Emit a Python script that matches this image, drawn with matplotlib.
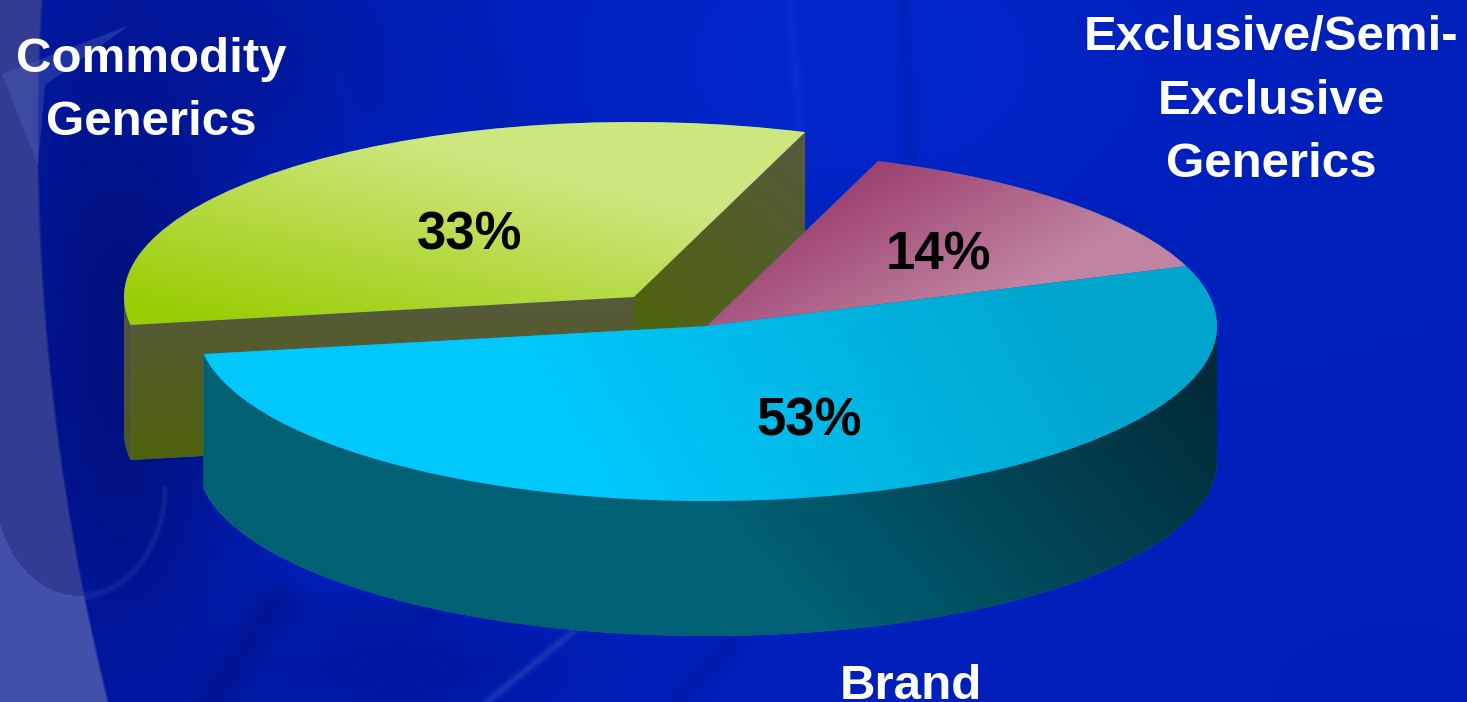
import numpy as np
import matplotlib
matplotlib.use('Agg')
import matplotlib.pyplot as plt
from matplotlib.patches import Polygon, Wedge
from matplotlib.transforms import Affine2D

plt.rcParams['font.family'] = ['Liberation Sans', 'DejaVu Sans']

# Market share by product type
categories = ['Brand', 'Exclusive/Semi-\nExclusive\nGenerics', 'Commodity\nGenerics']
shares = [53, 14, 33]

W, H = 1467, 702
RX, RY = 510, 175
DEPTH = 135
CENTER = (707, 326)
COMMODITY_CENTER = (634, 297)
START_ANGLE = 20.0


def arc_points(center, a0, a1, n=200, dy=0):
    t = np.radians(np.linspace(a0, a1, n))
    return np.column_stack([center[0] + RX * np.cos(t), center[1] - RY * np.sin(t) + dy])


def gradient(ax, clip, p0, p1, c0, c1):
    # Linear colour ramp from pixel p0 to pixel p1, clipped to a patch
    xx, yy = np.meshgrid(np.arange(W) + 0.5, np.arange(H) + 0.5)
    d = np.array(p1, float) - np.array(p0, float)
    t = np.clip(((xx - p0[0]) * d[0] + (yy - p0[1]) * d[1]) / (d @ d), 0, 1)[..., None]
    rgb = (np.array(c0) * (1 - t) + np.array(c1) * t) / 255
    ax.add_patch(clip)
    im = ax.imshow(rgb, extent=(0, W, H, 0), interpolation='bilinear', zorder=clip.get_zorder())
    im.set_clip_path(clip)


def background():
    xx, yy = np.meshgrid(np.arange(W) + 0.5, np.arange(H) + 0.5)
    img = np.ones((H, W, 3)) * np.array([0, 32, 188], float)

    def mix(w, color):
        return img * (1 - w[..., None]) + np.array(color, float) * w[..., None]

    def blob(cx, cy, sx, sy, color, amount):
        return mix(amount * np.exp(-((xx - cx) / sx) ** 2 - ((yy - cy) / sy) ** 2), color)

    def streak(x0, y0, x1, y1, width, color, amount):
        # soft line between two points
        dx, dy = x1 - x0, y1 - y0
        s = np.clip(((xx - x0) * dx + (yy - y0) * dy) / (dx * dx + dy * dy), 0, 1)
        dist = np.hypot(xx - x0 - s * dx, yy - y0 - s * dy)
        return mix(amount * np.exp(-(dist / width) ** 2), color)

    img = blob(860, 60, 260, 170, (0, 40, 205), 0.8)
    img = blob(1400, 690, 300, 160, (0, 30, 185), 0.4)
    img = blob(120, 330, 130, 420, (0, 16, 126), 1.0)
    img = blob(230, 60, 160, 120, (0, 22, 150), 0.8)
    img = blob(400, 670, 170, 60, (0, 20, 150), 0.8)
    img = blob(150, 680, 130, 70, (0, 24, 160), 0.7)

    # soft streaks across the backdrop
    img = streak(464, 0, 504, 125, 16, (0, 25, 165), 0.35)
    img = streak(310, 0, 361, 140, 10, (0, 35, 185), 0.3)
    img = streak(790, 0, 800, 130, 6, (12, 52, 215), 0.55)
    img = streak(905, 0, 910, 165, 7, (0, 28, 170), 0.5)
    img = streak(275, 600, 211, 702, 18, (0, 16, 125), 0.4)
    img = streak(275, 612, 430, 618, 18, (0, 16, 130), 0.25)
    img = streak(573, 632, 487, 702, 4, (45, 70, 190), 0.55)
    img = streak(734, 640, 677, 702, 12, (0, 20, 145), 0.35)

    # rim of the dark rounded shape near the left edge
    rho = np.hypot((xx - 80) / 85, (yy - 486) / 110)
    rim = np.clip(1 - np.abs(rho - 1) / 0.05, 0, 1) * (yy > 486) * 0.3
    img = mix(rim, (60, 80, 175))

    # pale band down the left edge, darker above the rim
    edge = 38 + 2.17e-4 * (yy - 134) ** 2
    band = np.clip((edge - xx) / 2.5 + 0.5, 0, 1)
    inside = ((yy < 486) | (rho < 1))[..., None]
    left = np.where(inside, np.array([50, 60, 146], float), np.array([66, 80, 170], float))
    img = img * (1 - band[..., None]) + left * band[..., None]
    return img / 255


fig = plt.figure(figsize=(W / 100, H / 100), dpi=100)
ax = fig.add_axes([0, 0, 1, 1])
ax.axis('off')
ax.imshow(background(), extent=(0, W, H, 0), zorder=0, aspect='auto')
ax.fill([2, 130, 45, 38], [74, 25, 85, 165], color=(0.30, 0.38, 0.72), alpha=0.4, lw=0, zorder=1)

# slice angles run clockwise from the brand slice's upper edge
sweep = np.array(shares) / sum(shares) * 360
brand_a0 = START_ANGLE - sweep[0]
pink_a1 = START_ANGLE + sweep[1]
comm_a1 = pink_a1 + sweep[2]

# commodity slice: inner faces, short outer wall, then top
tip = arc_points(COMMODITY_CENTER, pink_a1, pink_a1, 1)[0]
end = arc_points(COMMODITY_CENTER, comm_a1, comm_a1, 1)[0]
cx, cy = COMMODITY_CENTER
gradient(ax, Polygon([(cx, cy), tip, (tip[0], tip[1] + DEPTH), (cx, cy + DEPTH)], lw=0, zorder=2),
         (805, 140), (640, 330), (86, 90, 60), (78, 100, 14))
gradient(ax, Polygon([(cx, cy), end, (end[0], end[1] + DEPTH), (cx, cy + DEPTH)], lw=0, zorder=2),
         (400, 310), (400, 460), (86, 90, 56), (80, 98, 12))
rim_top = arc_points(COMMODITY_CENTER, 180, comm_a1, 20)
rim_bot = arc_points(COMMODITY_CENTER, comm_a1, 180, 20, dy=DEPTH)
gradient(ax, Polygon(np.vstack([rim_top, rim_bot]), lw=0, zorder=2),
         (125, 320), (125, 460), (80, 84, 60), (76, 88, 22))

top = Wedge((0, 0), RX, pink_a1, comm_a1, lw=0, zorder=3,
            transform=Affine2D().scale(1, RY / RX).scale(1, -1).translate(cx, cy) + ax.transData)
gradient(ax, top, (300, 340), (350, 130), (155, 205, 5), (205, 230, 125))

# pink slice
px, py = CENTER
pink = Wedge((0, 0), RX, START_ANGLE, pink_a1, lw=0, zorder=4,
             transform=Affine2D().scale(1, RY / RX).scale(1, -1).translate(px, py) + ax.transData)
gradient(ax, pink, (860, 165), (950, 325), (155, 62, 110), (192, 132, 162))

# brand slice: front wall first, top over it
wall_top = arc_points(CENTER, brand_a0, 0)
wall_bot = arc_points(CENTER, 0, brand_a0, dy=DEPTH)
gradient(ax, Polygon(np.vstack([wall_top, wall_bot]), lw=0, zorder=5),
         (1190, 350), (840, 640), (2, 42, 56), (0, 96, 116))
brand = Wedge((0, 0), RX, brand_a0, START_ANGLE, lw=0, zorder=6,
              transform=Affine2D().scale(1, RY / RX).scale(1, -1).translate(px, py) + ax.transData)
gradient(ax, brand, (620, 500), (1050, 260), (0, 200, 250), (0, 165, 205))

ax.set_xlim(0, W)
ax.set_ylim(H, 0)


def pct_label(x, y, value):
    ax.text(x, y, f'{value}%', fontsize=38, fontweight='bold', color='black',
            ha='center', va='center', zorder=10)


pct_label(470, 236, shares[2])
pct_label(938, 255, shares[1])
pct_label(809, 422, shares[0])


def name_label(x, y, text, va='center'):
    ax.text(x, y, text, fontsize=35.5, fontweight='bold', color='white',
            ha='center', va=va, zorder=10, linespacing=1.52)


name_label(151, 91, categories[2])
name_label(1271, 101, categories[1])
# sits right on the bottom edge, so place it by its baseline
name_label(911, 699, categories[0], va='baseline')

fig.savefig('out.png', dpi=100)
